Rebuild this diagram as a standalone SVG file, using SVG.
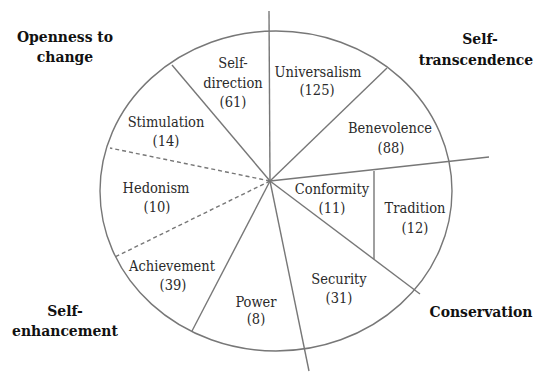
<svg xmlns="http://www.w3.org/2000/svg" width="534" height="372" viewBox="0 0 534 372">
<style>
.lab{font-size:14.5px;fill:#2a2a2a;text-anchor:middle}
.grp{font-size:15.5px;font-weight:bold;fill:#111;text-anchor:middle}
.ln{stroke:#777;stroke-width:1.4;fill:none}
.ds{stroke:#777;stroke-width:1.4;fill:none;stroke-dasharray:4 3}
</style>
<rect width="534" height="372" fill="#fff"/>
<g id="circle"><ellipse cx="276" cy="191" rx="176" ry="160" class="ln" stroke-width="1.6"/></g>
<g id="connectors">
<line x1="270" y1="181" x2="269" y2="11" class="ln"/>
<line x1="270" y1="181" x2="172" y2="65" class="ln"/>
<line x1="270" y1="181" x2="110" y2="148" class="ds"/>
<line x1="270" y1="181" x2="115" y2="257" class="ds"/>
<line x1="270" y1="181" x2="192" y2="331" class="ln"/>
<line x1="270" y1="181" x2="309" y2="371" class="ln"/>
<line x1="270" y1="181" x2="420" y2="294" class="ln"/>
<line x1="374" y1="171" x2="374" y2="259" class="ln"/>
<line x1="270" y1="181" x2="489" y2="157" class="ln"/>
<line x1="270" y1="181" x2="387" y2="68" class="ln"/>
</g>
<g font-family="DejaVu Serif Condensed, DejaVu Serif, serif" font-stretch="condensed">
<g id="self-direction"><text class="lab" x="233" y="68">Self-</text><text class="lab" x="233" y="88">direction</text><text class="lab" x="233" y="107">(61)</text></g>
<g id="universalism"><text class="lab" x="318" y="77">Universalism</text><text class="lab" x="317" y="95">(125)</text></g>
<g id="benevolence"><text class="lab" x="390" y="133">Benevolence</text><text class="lab" x="391" y="153">(88)</text></g>
<g id="stimulation"><text class="lab" x="166" y="127">Stimulation</text><text class="lab" x="166" y="146">(14)</text></g>
<g id="hedonism"><text class="lab" x="156" y="193">Hedonism</text><text class="lab" x="157" y="212">(10)</text></g>
<g id="achievement"><text class="lab" x="172" y="271">Achievement</text><text class="lab" x="173" y="290">(39)</text></g>
<g id="power"><text class="lab" x="256" y="307">Power</text><text class="lab" x="256" y="324">(8)</text></g>
<g id="security"><text class="lab" x="339" y="284">Security</text><text class="lab" x="339" y="303">(31)</text></g>
<g id="conformity"><text class="lab" x="332" y="194">Conformity</text><text class="lab" x="332" y="213">(11)</text></g>
<g id="tradition"><text class="lab" x="415" y="213">Tradition</text><text class="lab" x="415" y="233">(12)</text></g>
<g id="openness"><text class="grp" x="65" y="42">Openness to</text><text class="grp" x="65" y="62">change</text></g>
<g id="self-transcendence"><text class="grp" x="480" y="44">Self-</text><text class="grp" x="476" y="65">transcendence</text></g>
<g id="self-enhancement"><text class="grp" x="65" y="316">Self-</text><text class="grp" x="65" y="336">enhancement</text></g>
<g id="conservation"><text class="grp" x="481" y="317">Conservation</text></g>
</g>
</svg>
